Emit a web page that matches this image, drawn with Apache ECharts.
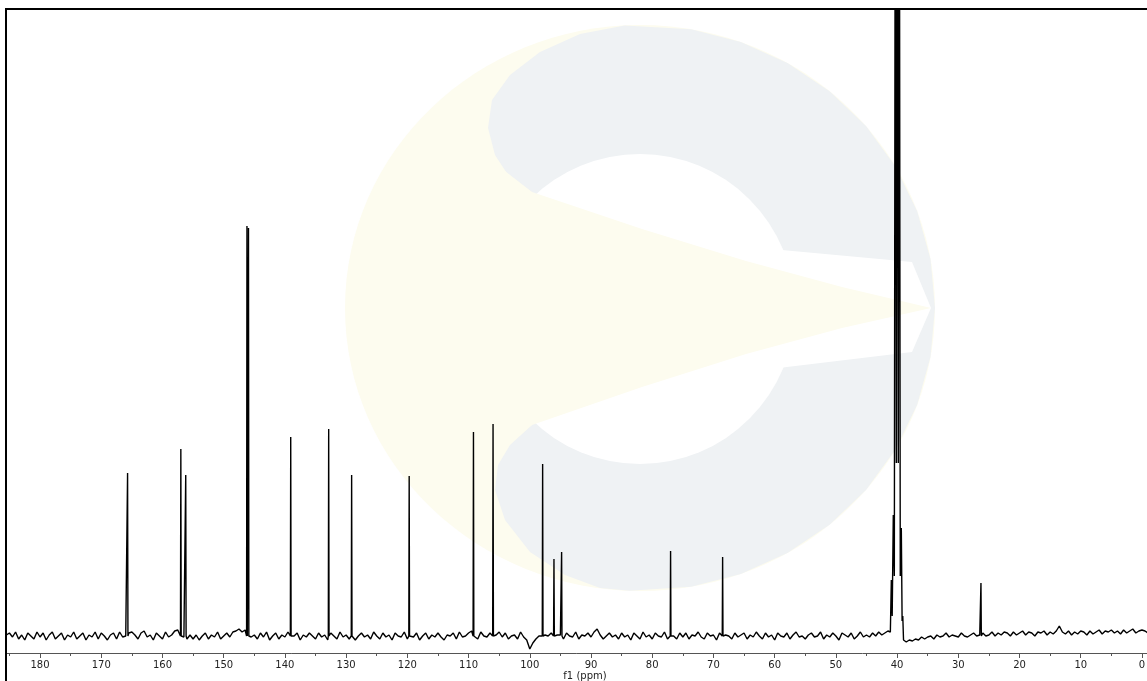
<!DOCTYPE html>
<html>
<head>
<meta charset="utf-8">
<script src="https://cdn.jsdelivr.net/npm/echarts@6/dist/echarts.min.js"></script>
<style>
html,body{margin:0;padding:0;background:#fff;}
#chart{width:1147px;height:681px;}
</style>
</head>
<body>
<div id="chart"></div>
<script>
// ---- data ----
const majorTicks = [180,170,160,150,140,130,120,110,100,90,80,70,60,50,40,30,20,10,0];
const minorTicks = [185,175,165,155,145,135,125,115,105,95,85,75,65,55,45,35,25,15,5];

const peakPpm    = [165.7, 157.0, 156.2, 146.2, 145.95, 139.05, 132.85, 129.1, 119.7, 109.2, 106.0, 97.9, 96.05, 94.8, 77.0, 68.5, 26.3];
const peakHeight = [163,   187,   161,   410,   408,    199,    207,    161,   160,   204,   212,   172,  77,    84,   85,   79,   53];

// DMSO-d6 solvent multiplet (lines and valleys, clipped at top)
const solventPpm    = [41.1, 40.94, 40.8, 40.62, 40.45, 40.29, 40.12, 39.96, 39.8, 39.64, 39.48, 39.31, 39.18, 39.07, 38.95];
const solventHeight = [4,    56,    20,   121,   60,    900,   173,   900,   173,  900,   60,    108,   15,    20,    -4];

// baseline (noise) read at 0.5 ppm steps from 185.5 ppm down to -1 ppm
const baselineStartPpm = 185.5;
const baselineStepPpm = 0.5;
const baselineNoise = [
  1,
  3,-1,4,-3,1,-4,3,0,-3,4,-1,3,-4,1,4,-3,0,3,-4,1,
  -1,4,-3,0,3,-4,1,-1,4,-3,3,0,-4,1,3,-3,4,-1,0,3,
  4,1,-3,3,5,-1,1,-4,3,0,-3,4,-1,1,5,6,3,-1,-3,1,
  -3,1,-4,0,3,-3,1,-1,4,-3,0,3,-1,4,5,7,4,6,0,-1,
  1,-3,3,-1,4,-4,0,3,-3,1,-1,4,-3,0,3,-4,1,-1,3,0,
  -3,3,-1,1,-4,3,0,-3,4,-1,1,-3,3,-4,0,3,-1,1,-3,4,
  0,-3,3,-1,1,-4,3,0,-1,4,-3,1,-1,3,-4,0,3,-3,1,-1,
  3,-1,-4,1,0,3,-3,4,-1,0,3,5,1,-3,4,0,-1,3,-3,1,
  4,-1,3,-3,0,1,-3,4,-1,-4,-13,-7,-3,0,-3,1,0,3,-1,1,
  1,-3,3,0,-1,4,-3,1,0,3,-1,4,7,1,-3,0,3,-1,1,-3,
  3,-1,1,-4,3,0,-3,4,-1,1,-3,3,0,-1,4,-3,1,0,-3,3,
  -1,3,-3,1,0,4,-1,-3,3,0,1,-4,3,-1,1,0,-3,3,-1,1,
  3,-3,1,-1,4,0,-3,3,-1,1,-4,3,0,-1,3,-3,1,4,-1,0,
  -3,1,3,-1,0,4,-3,1,-1,3,0,-4,3,1,-1,3,-3,0,4,-1,
  1,-1,3,0,4,1,3,5,0,0,0,0,0,-6,-4,-5,-3,-4,-1,-3,
  -1,0,-3,1,-1,0,3,-1,1,0,-1,3,0,-1,1,3,0,1,3,0,
  1,4,0,3,1,4,3,0,4,1,3,5,1,4,3,0,4,3,5,1,
  4,2,5,10,4,2,5,1,4,2,5,4,1,5,2,4,6,2,5,4,
  6,3,5,2,6,3,5,7,3,5,6,5,3
];

// ---- build the trace ----
const peakHalfWidth = 0.06;
const pts = [];
baselineNoise.forEach((v, i) => {
  const p = baselineStartPpm - i * baselineStepPpm;
  if (p <= solventPpm[0] + 0.05 && p >= solventPpm[solventPpm.length - 1] - 0.05) return;
  if (peakPpm.some(q => Math.abs(q - p) < 0.15)) return;
  pts.push([p, v]);
});
peakPpm.forEach((p, i) => {
  pts.push([p + peakHalfWidth, 0]);
  pts.push([p, peakHeight[i]]);
  pts.push([p - peakHalfWidth, 0]);
});
solventPpm.forEach((p, i) => pts.push([p, solventHeight[i]]));
pts.sort((a, b) => b[0] - a[0]);

const chart = echarts.init(document.getElementById('chart'), null, {renderer: 'canvas'});

const yellow = '#fdfcef';
const blue = '#eff2f4';

const blueShape = [
  [624.6,25.4],[691.2,29.3],[740.9,42.1],[787.5,62.9],[829.6,91.2],[866.0,126.1],[895.5,166.5],[917.2,211.2],[930.5,258.9],[935,308],
  [930.5,357.1],[917.2,404.8],[895.5,449.5],[866.0,489.9],[829.6,524.8],[787.5,553.1],[740.9,573.9],[691.2,586.7],[629.7,590.8],
  [600,588],[565,575],[530,552],[505,520],[495,490],[498,465],[510,445],[532,425],[560,309],[532,192],[510,178],[495,155],[488,128],
  [492,100],[510,75],[540,52],[580,34]
];
const wedgeShape = [[478,150],[532,192],[642,229],[746,261],[842,287],[931,308],[842,328],[746,354],[642,387],[532,425],[478,470]];

const option = {
  animation: false,
  backgroundColor: '#ffffff',
  grid: {left: 6, top: 10, width: 1158, height: 643, containLabel: false, outerBoundsMode: 'none'},
  xAxis: [{
    type: 'value', min: -3.6, max: 185.56, inverse: true, position: 'bottom',
    axisLine: {show: true, onZero: false, lineStyle: {color: '#555', width: 1}},
    axisTick: {show: true, customValues: majorTicks, length: 5, lineStyle: {color: '#555', width: 1}},
    axisLabel: {customValues: majorTicks, fontFamily: 'DejaVu Sans', fontSize: 10, color: '#222', margin: 7},
    splitLine: {show: false},
    name: 'f1 (ppm)', nameLocation: 'middle', nameGap: 18, nameMoveOverlap: false,
    nameTextStyle: {fontFamily: 'DejaVu Sans', fontSize: 10, color: '#222'}
  }, {
    type: 'value', min: -3.6, max: 185.56, inverse: true, position: 'bottom',
    axisLine: {show: false, onZero: false},
    axisTick: {show: true, customValues: minorTicks, length: 3, lineStyle: {color: '#555', width: 1}},
    axisLabel: {show: false},
    splitLine: {show: false}
  }],
  yAxis: {type: 'value', min: -17, max: 626, show: false, splitLine: {show: false}},
  graphic: [
    // faint watermark logo
    {type: 'ellipse', z: -10, silent: true, shape: {cx: 640, cy: 308, rx: 295, ry: 283}, style: {fill: yellow}},
    {type: 'polygon', z: -9, silent: true, shape: {points: blueShape}, style: {fill: blue}},
    {type: 'circle', z: -8, silent: true, shape: {cx: 640, cy: 309, r: 155}, style: {fill: '#ffffff'}},
    {type: 'polygon', z: -8, silent: true, shape: {points: [[760,248],[912,262],[931,308],[912,352],[762,370]]}, style: {fill: '#ffffff'}},
    {type: 'polygon', z: -7, silent: true, shape: {points: wedgeShape}, style: {fill: yellow}},
    // frame
    {type: 'line', z: 100, silent: true, shape: {x1: 5, y1: 9, x2: 1147, y2: 9}, style: {stroke: '#000', lineWidth: 2}},
    {type: 'line', z: 100, silent: true, shape: {x1: 6, y1: 8, x2: 6, y2: 681}, style: {stroke: '#000', lineWidth: 2}}
  ],
  series: [{
    type: 'line', data: pts, showSymbol: false, symbol: 'none', clip: true,
    lineStyle: {color: '#000', width: 1.4}, z: 5
  }]
};
chart.setOption(option);
</script>
</body>
</html>
